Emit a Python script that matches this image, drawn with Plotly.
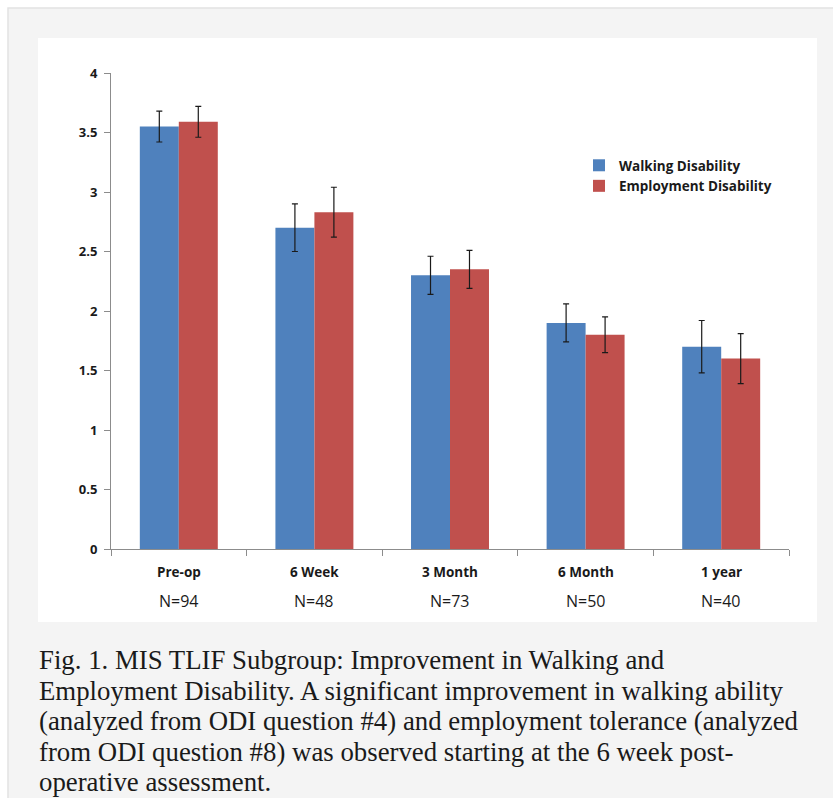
import plotly.graph_objects as go

# Follow-up time points and cohort sizes
timepoints = ["Pre-op", "6 Week", "3 Month", "6 Month", "1 year"]
cohort_n = ["N=94", "N=48", "N=73", "N=50", "N=40"]

# Mean ODI item scores with error-bar half widths
walking = [3.55, 2.70, 2.30, 1.90, 1.70]
walking_err = [0.13, 0.20, 0.16, 0.16, 0.22]
employment = [3.59, 2.83, 2.35, 1.80, 1.60]
employment_err = [0.13, 0.21, 0.16, 0.15, 0.21]

y_ticks = [0, 0.5, 1, 1.5, 2, 2.5, 3, 3.5, 4]
y_tick_text = ["0", "0.5", "1", "1.5", "2", "2.5", "3", "3.5", "4"]

caption_lines = [
    "Fig. 1. MIS TLIF Subgroup: Improvement in Walking and",
    "Employment Disability. A significant improvement in walking ability",
    "(analyzed from ODI question #4) and employment tolerance (analyzed",
    "from ODI question #8) was observed starting at the 6 week post-",
    "operative assessment.",
]

W, H = 833, 798
L, R, T, B = 111, 44, 73, 249
PW, PH = W - L - R, H - T - B


def px(x):
    return (x - L) / PW


def py(y):
    return (H - B - y) / PH


err_style = dict(type="data", thickness=1.2, width=3, color="#1a1a1a")

fig = go.Figure()
fig.add_trace(go.Bar(
    name="<b>Walking Disability</b>", x=timepoints, y=walking,
    marker=dict(color="#4F81BD", line=dict(width=0)),
    error_y=dict(array=walking_err, **err_style),
))
fig.add_trace(go.Bar(
    name="<b>Employment Disability</b>", x=timepoints, y=employment,
    marker=dict(color="#C0504D", line=dict(width=0)),
    error_y=dict(array=employment_err, **err_style),
))

# Framed page background and white chart panel
fig.add_shape(type="rect", xref="paper", yref="paper", layer="below",
              x0=px(8), x1=px(W + 20), y0=py(H + 20), y1=py(8),
              fillcolor="#f4f4f4", line=dict(color="#e2e2e2", width=1.5))
fig.add_shape(type="rect", xref="paper", yref="paper", layer="below",
              x0=px(38), x1=px(817), y0=py(622), y1=py(38),
              fillcolor="#ffffff", line=dict(width=0))

# Category labels with sample sizes beneath
for tp, n in zip(timepoints, cohort_n):
    fig.add_annotation(x=tp, xref="x", y=py(572), yref="paper",
                       text="<b>" + tp + "</b>", showarrow=False,
                       font=dict(family="Open Sans", size=13.5, color="#1a1a1a"),
                       xanchor="center", yanchor="middle")
    fig.add_annotation(x=tp, xref="x", y=py(601), yref="paper",
                       text=n, showarrow=False,
                       font=dict(family="Open Sans", size=16, color="#1a1a1a"),
                       xanchor="center", yanchor="middle")

# Figure caption, one annotation per line
for i, line in enumerate(caption_lines):
    fig.add_annotation(x=px(37), xref="paper", y=py(660 + 30.5 * i), yref="paper",
                       text=line, showarrow=False, align="left",
                       xanchor="left", yanchor="middle",
                       font=dict(family="Liberation Serif", size=26.8,
                                 color="#1a1a1a"))

fig.update_layout(
    width=W, height=H,
    margin=dict(l=L, r=R, t=T, b=B, pad=0),
    paper_bgcolor="#ffffff", plot_bgcolor="rgba(0,0,0,0)",
    barmode="group", bargap=0.425, bargroupgap=0,
    showlegend=True,
    legend=dict(x=px(579), y=py(150), xanchor="left", yanchor="top",
                bgcolor="rgba(0,0,0,0)", tracegroupgap=0, itemwidth=30,
                font=dict(family="Open Sans", size=13.5, color="#1a1a1a"),
                itemclick=False),
    font=dict(family="Open Sans", color="#1a1a1a"),
)
fig.update_xaxes(showticklabels=False, showline=True, linecolor="#8c8c8c",
                 linewidth=1, ticks="outside", tickson="boundaries",
                 ticklen=6, tickcolor="#8c8c8c", showgrid=False, zeroline=False,
                 fixedrange=True)
fig.update_yaxes(range=[0, 4], tickvals=y_ticks, ticktext=y_tick_text,
                 showline=True, linecolor="#8c8c8c", linewidth=1,
                 ticks="outside", ticklen=6, tickcolor="#8c8c8c",
                 showgrid=False, zeroline=False, fixedrange=True,
                 tickfont=dict(family="Open Sans", size=13, color="#1a1a1a",
                               weight="bold"),
                 ticklabelstandoff=4)

fig.write_html("out.html")
